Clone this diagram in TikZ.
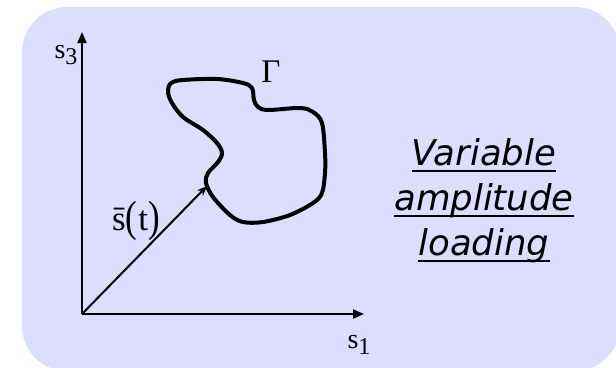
\documentclass[tikz,border=0pt]{standalone}
\usepackage{fontspec}
\setmainfont{Liberation Serif}
\newfontfamily\verd{DejaVu Sans}
\usepackage{tikz}
\usetikzlibrary{arrows.meta}
\definecolor{panel}{RGB}{221,221,255}
\definecolor{ink}{RGB}{0,0,0}
\tikzset{
    axis/.style={draw=ink,line width=2pt,-{Triangle[length=11pt,width=9pt]}},
    vec/.style={draw=ink,line width=2pt,-{Stealth[length=10pt,width=8pt]}},
    path/.style={draw=ink,line width=4pt,line join=round},
    lbl/.style={inner sep=0pt,font=\fontsize{28}{30}\selectfont},
    note/.style={inner sep=0pt,anchor=base,font=\verd\itshape\fontsize{35.5}{45}\selectfont},
    uline/.style={draw=ink,line width=1.6pt},
}
\newcommand{\idx}[1]{\raisebox{-6pt}{\fontsize{24}{24}\selectfont #1}}
\newcommand{\tallp}[1]{\raisebox{-1pt}{\scalebox{1}[1.25]{#1}}}
\begin{document}
\begin{tikzpicture}[x=1pt,y=-1pt]
\useasboundingbox (0,0) rectangle (616,367);
% background panel
\fill[panel,rounded corners=45pt] (22,7) rectangle (620,371);

% axes
\coordinate (O) at (82,314);
\coordinate (s3end) at (82,32);
\coordinate (s1end) at (364,314);
\coordinate (tip) at (207,186);
\draw[axis] (O) -- (s3end);
\draw[axis] (O) -- (s1end);
\node[lbl,anchor=base] (s3) at (66,58) {s\idx{3}};
\node[lbl,anchor=base] (s1) at (359,348) {s\idx{1}};

% load path Gamma
\draw[path] plot[smooth cycle,tension=0.55] coordinates {
  (206,183) (208,173) (218,162) (222,153) (217,143) (203,130) (183,117)
  (172,103) (168,92) (171,83) (183,80) (217,79) (243,83) (252,88)
  (254,100) (258,107) (268,110) (300,108) (313,112) (322,123)
  (325,153) (325,173) (322,193) (313,203) (290,215) (263,222)
  (243,222) (230,215) (213,197)};
\node[lbl,font=\fontsize{33}{33}\selectfont,anchor=base] (gam) at (271,82) {Γ};

% loading vector
\draw[vec] (O) -- (tip);
\node[lbl,font=\fontsize{35}{36}\selectfont,anchor=base] (st) at (136,230) {\=s\tallp{(}\kern1pt t\tallp{)}};

% caption, underlined line by line
\node[note] (l1) at (484,165) {Variable};
\node[note] (l2) at (484,210) {amplitude};
\node[note] (l3) at (484,255) {loading};
\foreach \n in {l1,l2,l3}
  \draw[uline] ([yshift=-6pt]\n.base west) -- ([yshift=-6pt]\n.base east);
\end{tikzpicture}
\end{document}
